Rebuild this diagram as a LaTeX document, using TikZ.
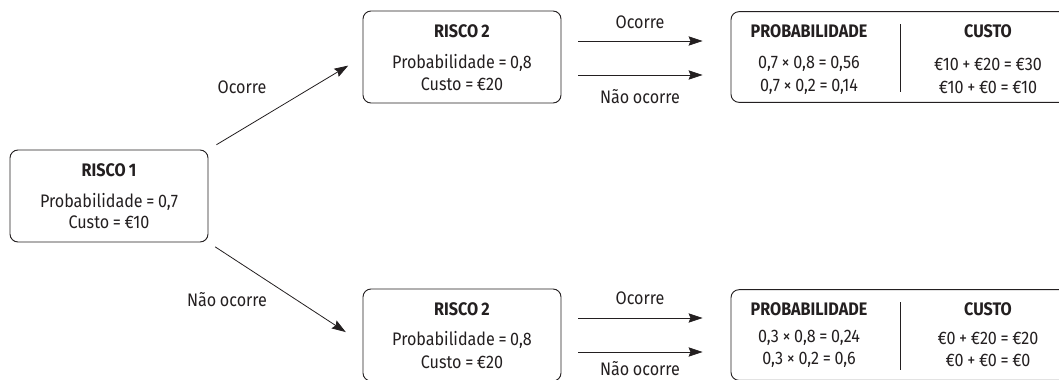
\documentclass[tikz,border=0pt]{standalone}
\usepackage{fontspec}
\setmainfont{Fira Sans}[FakeStretch=0.89, WordSpace=0.85]
\usepackage{tikz}
\usetikzlibrary{arrows.meta, positioning}
\definecolor{ink}{HTML}{231F20}
\newcommand{\diagfont}{\fontsize{13.6}{16}\selectfont}
\tikzset{
  riskbox/.style={draw=ink, rounded corners=6pt, line width=0.7pt, minimum width=148.5pt, minimum height=69pt, inner sep=0pt},
  resbox/.style={draw=ink, rounded corners=6pt, line width=0.7pt, minimum width=258pt, minimum height=68pt, inner sep=0pt},
  head/.style={font=\diagfont\bfseries, inner sep=0pt, text=ink},
  txt/.style={font=\diagfont, inner sep=0pt, text=ink},
  arr/.style={draw=ink, line width=0.6pt, -{Stealth[length=10.5pt, width=7pt, inset=1.5pt]}}
}
\begin{document}
\begin{tikzpicture}[x=0.75pt, y=-0.75pt]
  \useasboundingbox (0,0) rectangle (1059,379);
  \clip (0,0) rectangle (1059,379);
  % risco 1
  \node[riskbox] (r1) at (109,196) {};
  \node[head] (r1h) at (109,170) {RISCO 1};
  \node[txt] (r1p) at (109,202) {Probabilidade = 0,7};
  \node[txt] (r1c) at (109,222) {Custo = €10};
  % risco 2 (ocorre)
  \node[riskbox] (r2a) at (462,57) {};
  \node[head] (r2ah) at (462,31) {RISCO 2};
  \node[txt] (r2ap) at (462,63) {Probabilidade = 0,8};
  \node[txt] (r2ac) at (462,84) {Custo = €20};
  % risco 2 (nao ocorre)
  \node[riskbox] (r2b) at (462,335) {};
  \node[head] (r2bh) at (462,309) {RISCO 2};
  \node[txt] (r2bp) at (462,340) {Probabilidade = 0,8};
  \node[txt] (r2bc) at (462,362) {Custo = €20};
  % resultados
  \node[resbox] (p1) at (903,57) {};
  \node[head] (p1h) at (809,31) {PROBABILIDADE};
  \node[head] (c1h) at (988,31) {CUSTO};
  \node[txt] (p1a) at (809,64) {0,7 × 0,8 = 0,56};
  \node[txt] (p1b) at (809,87) {0,7 × 0,2 = 0,14};
  \node[txt] (c1a) at (988,64) {€10 + €20 = €30};
  \node[txt] (c1b) at (988,87) {€10 + €0 = €10};
  \coordinate (d1t) at (900,24);
  \coordinate (d1b) at (900,92);
  \draw[ink, line width=0.6pt] (d1t) -- (d1b);
  \node[resbox] (p2) at (903,335) {};
  \node[head] (p2h) at (809,309) {PROBABILIDADE};
  \node[head] (c2h) at (988,309) {CUSTO};
  \node[txt] (p2a) at (809,338) {0,3 × 0,8 = 0,24};
  \node[txt] (p2b) at (809,360) {0,3 × 0,2 = 0,6};
  \node[txt] (c2a) at (988,338) {€0 + €20 = €20};
  \node[txt] (c2b) at (988,360) {€0 + €0 = €0};
  \coordinate (d2t) at (900,302);
  \coordinate (d2b) at (900,370);
  \draw[ink, line width=0.6pt] (d2t) -- (d2b);
  % arrows
  \draw[arr, shorten <=7pt, shorten >=12.5pt] (r1.north east) -- (r2a.west);
  \draw[arr, shorten <=6pt, shorten >=15pt] (r1.south east) -- ([yshift=-6pt]r2b.west);
  \node[txt] (l1) at (242,87) {Ocorre};
  \node[txt] (l2) at (227,300) {Não ocorre};
  \draw[arr, shorten <=12.5pt, shorten >=21pt] ([yshift=12pt]r2a.east) -- ([yshift=12pt]p1.west);
  \draw[arr, shorten <=12.5pt, shorten >=21pt] ([yshift=-13.5pt]r2a.east) -- ([yshift=-13.5pt]p1.west);
  \node[txt] (l3) at (640,22) {Ocorre};
  \node[txt] (l4) at (640,97) {Não ocorre};
  \draw[arr, shorten <=12.5pt, shorten >=21pt] ([yshift=12.75pt]r2b.east) -- ([yshift=12.75pt]p2.west);
  \draw[arr, shorten <=12.5pt, shorten >=21pt] ([yshift=-12.75pt]r2b.east) -- ([yshift=-12.75pt]p2.west);
  \node[txt] (l5) at (640,298) {Ocorre};
  \node[txt] (l6) at (640,369) {Não ocorre};
\end{tikzpicture}
\end{document}
